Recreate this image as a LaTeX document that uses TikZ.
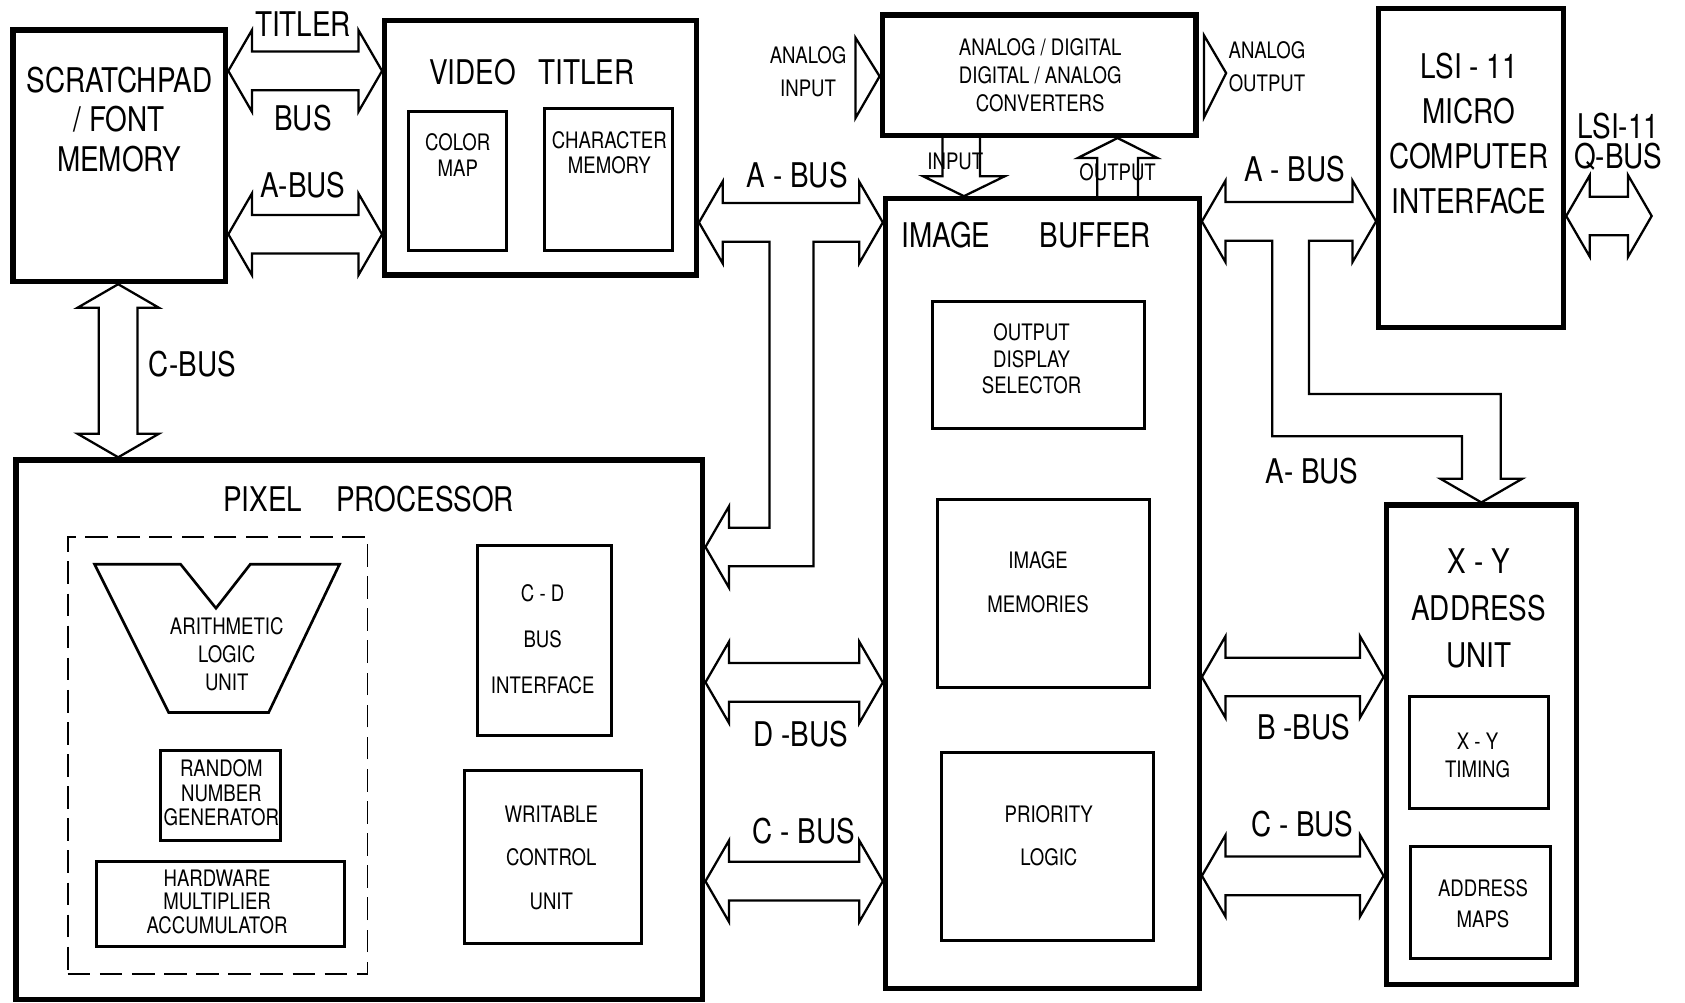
\documentclass[tikz,border=0pt]{standalone}
\usepackage{fontspec}
\setmainfont{TeX Gyre Heros}[FakeStretch=0.82]
\usetikzlibrary{calc,fit}

\tikzset{
  bigbox/.style={draw, line width=1.4pt, inner sep=0pt},
  box/.style={draw, line width=0.8pt, inner sep=0pt},
  dashbox/.style={draw, line width=0.5pt, inner sep=0pt, dash pattern=on 6pt off 2.5pt},
  bus/.style={draw, line width=0.6pt, line join=miter},
  big/.style={font=\fontsize{9}{#1}\selectfont, align=center, inner sep=0pt},
  big/.default=12,
  small/.style={font=\fontsize{6}{#1}\selectfont, align=center, inner sep=0pt},
  small/.default=7
}

% horizontal double bus between two tips at the same height
\newcommand{\hbus}[2]{%
  \draw[bus] (#1) -- ++(22,-38) -- ++(0,20) -- ($(#2)+(-22,-18)$) -- ++(0,-20)
    -- (#2) -- ++(-22,38) -- ++(0,-20) -- ($(#1)+(22,18)$) -- ++(0,20) -- cycle;}
% vertical double bus
\newcommand{\vbus}[2]{%
  \draw[bus] (#1) -- ++(-38,22) -- ++(20,0) -- ($(#2)+(-18,-22)$) -- ++(-20,0)
    -- (#2) -- ++(38,-22) -- ++(-20,0) -- ($(#1)+(18,22)$) -- ++(20,0) -- cycle;}

\begin{document}
\begin{tikzpicture}[x=0.01cm, y=-0.01cm]
    \useasboundingbox (0,0) rectangle (1568,933);

    % Main blocks
    \node[bigbox, fit={(12,28) (210,262)}] (scratch) {};
    \node[bigbox, fit={(358,19) (648,256)}] (vtitler) {};
    \node[bigbox, fit={(821,14) (1113,126)}] (adda) {};
    \node[bigbox, fit={(1283,8) (1455,305)}] (lsi) {};
    \node[bigbox, fit={(824,185) (1116,920)}] (imgbuf) {};
    \node[bigbox, fit={(15,428) (654,930)}] (pixproc) {};
    \node[bigbox, fit={(1290,470) (1467,916)}] (xyunit) {};

    % Inner blocks
    \node[box, fit={(380,104) (471,233)}] (colormap) {};
    \node[box, fit={(507,101) (626,233)}] (charmem) {};
    \node[box, fit={(868,281) (1065,399)}] (ods) {};
    \node[box, fit={(872,465) (1070,640)}] (imem) {};
    \node[box, fit={(876,700) (1073,875)}] (prio) {};
    \node[dashbox, fit={(63,500) (342,906)}] (alugroup) {};
    \node[box, fit={(149,698) (261,782)}] (rng) {};
    \node[box, fit={(90,802) (321,881)}] (hma) {};
    \node[box, fit={(444,508) (569,684)}] (cdbus) {};
    \node[box, fit={(432,717) (597,878)}] (wcu) {};
    \node[box, fit={(1312,648) (1441,752)}] (xytiming) {};
    \node[box, fit={(1313,788) (1443,892)}] (amaps) {};

    % ALU outline
    \draw[line width=0.7pt] (88,525) -- (168,525) -- (201,566) -- (233,525) -- (316,525)
        -- (250,663) -- (157,663) -- cycle;

    % Texts
    \node[big=10.5] (scratchtxt) at (111,111) {SCRATCHPAD\\/ FONT\\MEMORY};
    \node[big] (vtitlertxt) at (495,67) {VIDEO\hspace{6pt}TITLER};
    \node[small=6.8] (colormaptxt) at (426,144) {COLOR\\MAP};
    \node[small=6.8] (charmemtxt) at (567,142) {CHARACTER\\MEMORY};
    \node[small=7.3] (addatxt) at (968,70) {ANALOG / DIGITAL\\DIGITAL / ANALOG\\CONVERTERS};
    \node[big] (imgbuftxt) at (955,219) {IMAGE\hspace{13pt}BUFFER};
    \node[big=11.9] (lsitxt) at (1367,124) {LSI - 11\\MICRO\\COMPUTER\\INTERFACE};
    \node[small=7] (odstxt) at (960,334) {OUTPUT\\DISPLAY\\SELECTOR};
    \node[small=11.7] (imemtxt) at (966,542) {IMAGE\\MEMORIES};
    \node[small=11.4] (priotxt) at (976,778) {PRIORITY\\LOGIC};
    \node[big] (pixtxt) at (343,464) {PIXEL\hspace{9pt}PROCESSOR};
    \node[small=7.4] (alutxt) at (211,609) {ARITHMETIC\\LOGIC\\UNIT};
    \node[small=6.5] (rngtxt) at (206,738) {RANDOM\\NUMBER\\GENERATOR};
    \node[small=6.2] (hmatxt) at (202,839) {HARDWARE\\MULTIPLIER\\ACCUMULATOR};
    \node[small=12.1] (cdtxt) at (505,595) {C - D\\BUS\\INTERFACE};
    \node[small=11.5] (wcutxt) at (513,798) {WRITABLE\\CONTROL\\UNIT};
    \node[big=12.4] (xytxt) at (1376,566) {X - Y\\ADDRESS\\UNIT};
    \node[small=7.4] (xytimtxt) at (1375,703) {X - Y\\TIMING};
    \node[small=8] (amapstxt) at (1380,841) {ADDRESS\\MAPS};

    % Bus labels
    \node[big] (titlerlbl) at (282,22) {TITLER};
    \node[big] (buslbl) at (282,110) {BUS};
    \node[big] (abuslbl1) at (282,172) {A-BUS};
    \node[big] (cbuslbl1) at (179,339) {C-BUS};
    \node[big] (abuslbl2) at (742,163) {A - BUS};
    \node[big] (abuslbl3) at (1205,157) {A - BUS};
    \node[big] (abuslbl4) at (1221,438) {A- BUS};
    \node[big=8] (qbuslbl) at (1506,132) {LSI-11\\Q-BUS};
    \node[big] (dbuslbl) at (745,683) {D -BUS};
    \node[big] (cbuslbl2) at (748,773) {C - BUS};
    \node[big] (bbuslbl) at (1213,677) {B -BUS};
    \node[big] (cbuslbl3) at (1212,767) {C - BUS};
    \node[small=8.8] (aintxt) at (752,67) {ANALOG\\INPUT};
    \node[small=8.6] (aouttxt) at (1179,62) {ANALOG\\OUTPUT};
    \node[small] (inlbl) at (889,150) {INPUT};
    \node[small] (outlbl) at (1040,160) {OUTPUT};

    % Bus end points
    \coordinate (tb1) at (scratch.east |- 0,66);
    \coordinate (tb2) at (vtitler.west |- 0,66);
    \coordinate (ab1) at (scratch.east |- 0,218);
    \coordinate (ab2) at (vtitler.west |- 0,218);
    \coordinate (cb1) at (110,0 |- scratch.south);
    \coordinate (cb2) at (110,0 |- pixproc.north);
    \coordinate (db1) at (pixproc.east |- 0,635);
    \coordinate (db2) at (imgbuf.west |- 0,635);
    \coordinate (cc1) at (pixproc.east |- 0,820);
    \coordinate (cc2) at (imgbuf.west |- 0,820);
    \coordinate (bb1) at (imgbuf.east |- 0,630);
    \coordinate (bb2) at (xyunit.west |- 0,630);
    \coordinate (cr1) at (imgbuf.east |- 0,815);
    \coordinate (cr2) at (xyunit.west |- 0,815);
    \coordinate (qb1) at (lsi.east |- 0,201);
    \coordinate (qend) at (1537,201);

    % Straight buses
    \hbus{tb1}{tb2}
    \hbus{ab1}{ab2}
    \vbus{cb1}{cb2}
    \hbus{db1}{db2}
    \hbus{cc1}{cc2}
    \hbus{bb1}{bb2}
    \hbus{cr1}{cr2}
    \hbus{qb1}{qend}

    % A-BUS: video titler -- image buffer, branch to pixel processor
    \draw[bus] (vtitler.east |- 0,207) -- ++(22,-38) -- ++(0,20)
        -- ($(imgbuf.west |- 0,207)+(-22,-18)$) -- ++(0,-20) -- (imgbuf.west |- 0,207)
        -- ++(-22,38) -- ++(0,-20) -- (757,225) |- ($(pixproc.east |- 0,509)+(22,18)$)
        -- ++(0,20) -- (pixproc.east |- 0,509) -- ++(22,-38) -- ++(0,20) -| (716,225)
        -- ($(vtitler.east |- 0,207)+(22,18)$) -- ++(0,20) -- cycle;

    % A-BUS: image buffer -- LSI-11, branch to X-Y address unit
    \draw[bus] (imgbuf.east |- 0,206) -- ++(22,-38) -- ++(0,20)
        -- ($(lsi.west |- 0,206)+(-22,-18)$) -- ++(0,-20) -- (lsi.west |- 0,206)
        -- ++(-22,38) -- ++(0,-20) -- (1218,224) |- ($(xyunit.north)+(18,-101)$)
        -- ++(0,79) -- ++(20,0) -- (xyunit.north) -- ++(-38,-22) -- ++(20,0) |- (1184,406)
        -- (1184,224) -- ($(imgbuf.east |- 0,206)+(22,18)$) -- ++(0,20) -- cycle;

    % Converter input / output
    \draw[bus] (877,0 |- adda.south) |- (859,164) -- (897,0 |- imgbuf.north) -- (935,164)
        -| (912,0 |- adda.south);
    \draw[bus] (1021,0 |- imgbuf.north) |- (1003,147) -- (1040,0 |- adda.south) -- (1077,147)
        -| (1059,0 |- imgbuf.north);

    % Analog input / output
    \draw[bus] (796,35) -- (adda.west |- 0,71) -- (796,110) -- cycle;
    \draw[bus] ($(adda.east |- 0,33)+(5,0)$) -- (1141,68) -- ($(adda.east |- 0,109)+(5,0)$) -- cycle;

\end{tikzpicture}
\end{document}
